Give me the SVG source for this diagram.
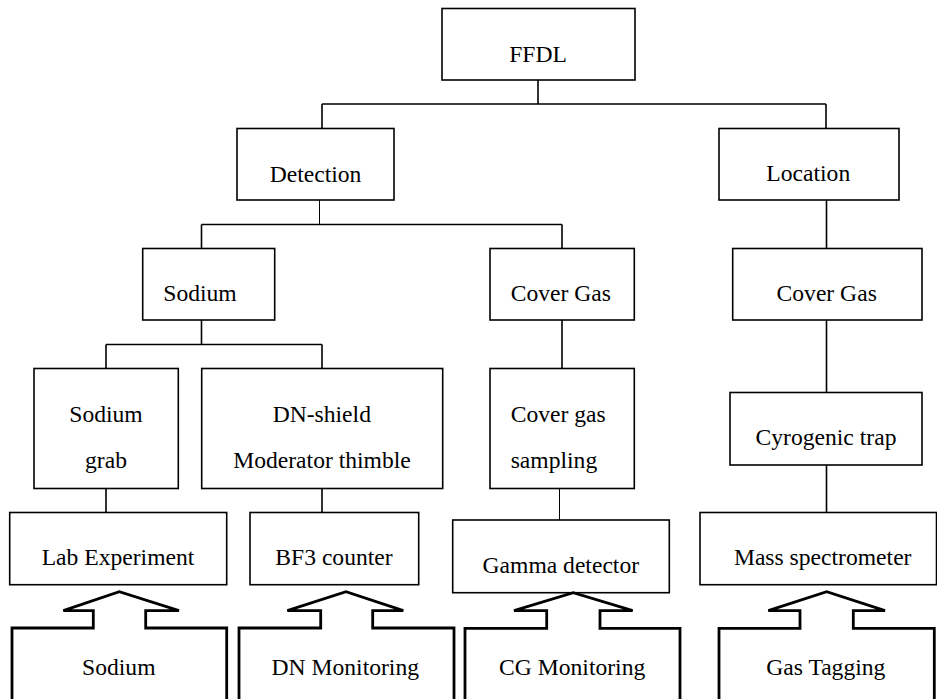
<svg xmlns="http://www.w3.org/2000/svg" width="937" height="699" viewBox="0 0 937 699">
<style>
.box{fill:#fff;stroke:#000;stroke-width:1.6}
.src{fill:#fff;stroke:#000;stroke-width:2.8;stroke-linejoin:miter}
.ln{fill:none;stroke:#000;stroke-width:1.6}
.thin{fill:none;stroke:#000;stroke-width:1}
text{font-family:'Liberation Serif',serif;font-size:23.6px;fill:#000;text-anchor:middle}
</style>
<rect width="937" height="699" fill="#fff"/>
<g id="connectors">
<path class="ln" d="M538,80V104M322,104H826M322,104V128M826,104V128"/>
<path class="thin" d="M319.5,200V224.5"/>
<path class="ln" d="M201.5,224.5H562M201.5,224.5V248.5M562,224.5V248.5"/>
<path class="ln" d="M826.5,200V248.5M826.5,320V392.5M826.5,465V512.5"/>
<path class="ln" d="M201.5,320V344.5M106,344.5H322M106,344.5V368.5M322,344.5V368.5"/>
<path class="ln" d="M562,320V368.5"/>
<path class="ln" d="M106,488.5V512.5M322,488.5V512.5"/>
<path class="thin" d="M559.5,488.5V520"/>
</g>
<g id="n-ffdl"><rect class="box" x="442" y="8.5" width="193" height="71.5"/><text x="538" y="61.5">FFDL</text></g>
<g id="n-detection"><rect class="box" x="237" y="128.5" width="157" height="71.5"/><text x="315.5" y="181.5">Detection</text></g>
<g id="n-location"><rect class="box" x="719" y="128.5" width="180" height="71.5"/><text x="808.3" y="180.7">Location</text></g>
<g id="n-sodium"><rect class="box" x="142.7" y="248.5" width="132" height="71.5"/><text x="200" y="300.7">Sodium</text></g>
<g id="n-covergas-det"><rect class="box" x="490" y="248.5" width="144.3" height="71.5"/><text x="560.8" y="300.7">Cover Gas</text></g>
<g id="n-covergas-loc"><rect class="box" x="732.7" y="248.5" width="189.3" height="71.5"/><text x="826.7" y="300.7">Cover Gas</text></g>
<g id="n-sodiumgrab"><rect class="box" x="34" y="368.5" width="144.3" height="120"/><text x="106" y="421.5">Sodium</text><text x="106" y="467.5">grab</text></g>
<g id="n-dnshield"><rect class="box" x="201.7" y="368.5" width="241" height="120"/><text x="321.8" y="421.5">DN-shield</text><text x="322" y="467.5">Moderator thimble</text></g>
<g id="n-cgsampling"><rect class="box" x="490" y="368.5" width="144.3" height="120"/><text x="510.7" y="421.5" style="text-anchor:start">Cover gas</text><text x="510.7" y="467.5" style="text-anchor:start">sampling</text></g>
<g id="n-cyrotrap"><rect class="box" x="730" y="392.5" width="192" height="72.5"/><text x="826" y="444.5">Cyrogenic trap</text></g>
<g id="n-labexp"><rect class="box" x="9.7" y="512.5" width="217" height="72.2"/><text x="118" y="565">Lab Experiment</text></g>
<g id="n-bf3"><rect class="box" x="250" y="512.5" width="168.7" height="72.2"/><text x="334" y="565">BF3 counter</text></g>
<g id="n-gamma"><rect class="box" x="452.7" y="520" width="216.6" height="72.7"/><text x="560.8" y="572.7">Gamma detector</text></g>
<g id="n-massspec"><rect class="box" x="700" y="512.5" width="236.5" height="72.2"/><text x="822.7" y="565">Mass spectrometer</text></g>
<g id="n-src-sodium"><path class="src" d="M12,710V628H93.3V610.7H63.3L119.3,591.7L179,610.7H145.7V628H226.7V710"/><text x="118.8" y="675">Sodium</text></g>
<g id="n-src-dn"><path class="src" d="M239,710V628H320.7V610.7H287.3L346,591.7L403.3,610.7H372.7V628H454V710"/><text x="345.3" y="675">DN Monitoring</text></g>
<g id="n-src-cg"><path class="src" d="M465,710V628.3H546.7V610.7H514L573.3,592.7L632.7,610.7H600V628.3H680V710"/><text x="572.2" y="675">CG Monitoring</text></g>
<g id="n-src-gas"><path class="src" d="M719,710V628.3H800V610.7H768.3L826.7,591.7L885,610.7H853.3V628.3H934.3V710"/><text x="825.8" y="675">Gas Tagging</text></g>
</svg>
